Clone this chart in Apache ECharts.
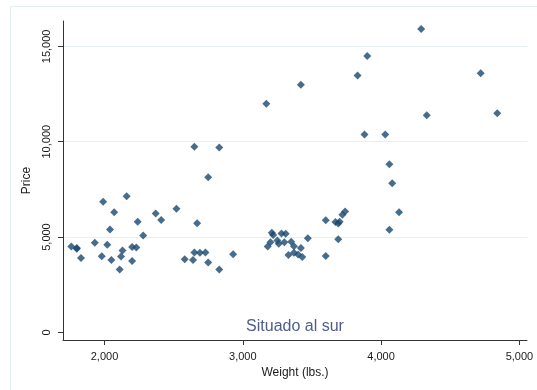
<!DOCTYPE html>
<html>
<head>
<meta charset="utf-8">
<script src="https://cdn.jsdelivr.net/npm/echarts@6/dist/echarts.min.js"></script>
<style>
  html, body { margin: 0; padding: 0; background: #ffffff; }
  #chart { width: 537px; height: 390px; }
</style>
</head>
<body>
<div id="chart"></div>
<script>
// Car weight (lbs.) and price, one entry per model
var weight = [2930, 3350, 2640, 3250, 4080, 3670, 2230, 3280, 3880, 3400,
  4330, 3900, 4290, 2110, 3690, 3180, 3220, 2750, 3430, 2120,
  3600, 3600, 3740, 1800, 2650, 4840, 4720, 3830, 2580, 4060,
  3720, 3370, 4130, 2830, 4060, 3310, 3300, 3690, 3370, 2730,
  4030, 3260, 1800, 2200, 2520, 3330, 3700, 3470, 3210, 3200,
  3420, 2690, 2830, 2070, 2650, 2370, 2020, 2280, 2750, 2130,
  2240, 1760, 1980, 3420, 1830, 2050, 2410, 2200, 2670, 2160,
  2040, 1930, 1990, 3170];
var price = [4099, 4749, 3799, 4816, 7827, 5788, 4453, 5189, 10372, 4082,
  11385, 14500, 15906, 3299, 5705, 4504, 5104, 3667, 3955, 3984,
  4010, 5886, 6342, 4389, 4187, 11497, 13594, 13466, 3829, 5379,
  6165, 4516, 6303, 3291, 8814, 5172, 4733, 4890, 4181, 4195,
  10371, 4647, 4425, 4482, 6486, 4060, 5798, 4934, 5222, 4723,
  4424, 4172, 9690, 6295, 9735, 6229, 4589, 5079, 8129, 4296,
  5799, 4499, 3995, 12990, 3895, 3798, 5899, 3748, 5719, 7140,
  5397, 4697, 6850, 11995];

var xTicks = [2000, 3000, 4000, 5000];
var yTicks = [0, 5000, 10000, 15000];
var yGrid = [5000, 10000, 15000];

var points = weight.map(function (w, i) { return [w, price[i]]; });

function fmt(v) {
  return String(v).replace(/\B(?=(\d{3})+(?!\d))/g, ',');
}

var chart = echarts.init(document.getElementById('chart'), null, { renderer: 'canvas' });
var font = 'Liberation Sans, Arial, sans-serif';

chart.setOption({
  backgroundColor: '#ffffff',
  animation: false,
  grid: { left: 63, right: 10, top: 21, bottom: 50, containLabel: false },
  xAxis: {
    type: 'value',
    min: 1700,
    max: 5055,
    name: 'Weight (lbs.)',
    nameLocation: 'middle',
    nameGap: 19,
    nameTextStyle: { fontFamily: font, fontSize: 12, color: '#1a1a1a' },
    axisLine: { show: true, onZero: false, lineStyle: { color: '#333333', width: 1 } },
    axisTick: { show: true, customValues: xTicks, length: 5, lineStyle: { color: '#333333' } },
    axisLabel: {
      customValues: xTicks,
      formatter: fmt,
      margin: 11,
      fontFamily: font, fontSize: 11, color: '#1a1a1a'
    },
    splitLine: { show: false }
  },
  yAxis: {
    type: 'value',
    min: -400,
    max: 16330,
    name: 'Price',
    nameLocation: 'middle',
    nameRotate: 90,
    nameGap: 25,
    nameTextStyle: { fontFamily: font, fontSize: 12, color: '#1a1a1a' },
    axisLine: { show: true, onZero: false, lineStyle: { color: '#333333', width: 1 } },
    axisTick: { show: true, customValues: yTicks, length: 5, lineStyle: { color: '#333333' } },
    axisLabel: {
      customValues: yTicks,
      formatter: fmt,
      rotate: 90,
      margin: 11,
      fontFamily: font, fontSize: 11, color: '#1a1a1a'
    },
    splitLine: { show: false }
  },
  graphic: [
    {
      type: 'rect',
      shape: { x: 10.5, y: 6.5, width: 700, height: 600 },
      style: { fill: 'none', stroke: '#e3eef0', lineWidth: 1 },
      z: -10
    },
    {
      type: 'text',
      x: 295, y: 327,
      style: {
        text: 'Situado al sur',
        fontFamily: font, fontSize: 16,
        fill: '#4f5c8c',
        align: 'center', verticalAlign: 'middle'
      }
    }
  ],
  series: [{
    type: 'scatter',
    data: points,
    symbol: 'diamond',
    symbolSize: [8, 8],
    itemStyle: { color: '#1a476f' },
    markLine: {
      silent: true,
      symbol: ['none', 'none'],
      label: { show: false },
      lineStyle: { color: '#e6eff1', width: 1, type: 'solid' },
      data: yGrid.map(function (v) { return { yAxis: v }; }),
      z: -1
    }
  }]
});
</script>
</body>
</html>
